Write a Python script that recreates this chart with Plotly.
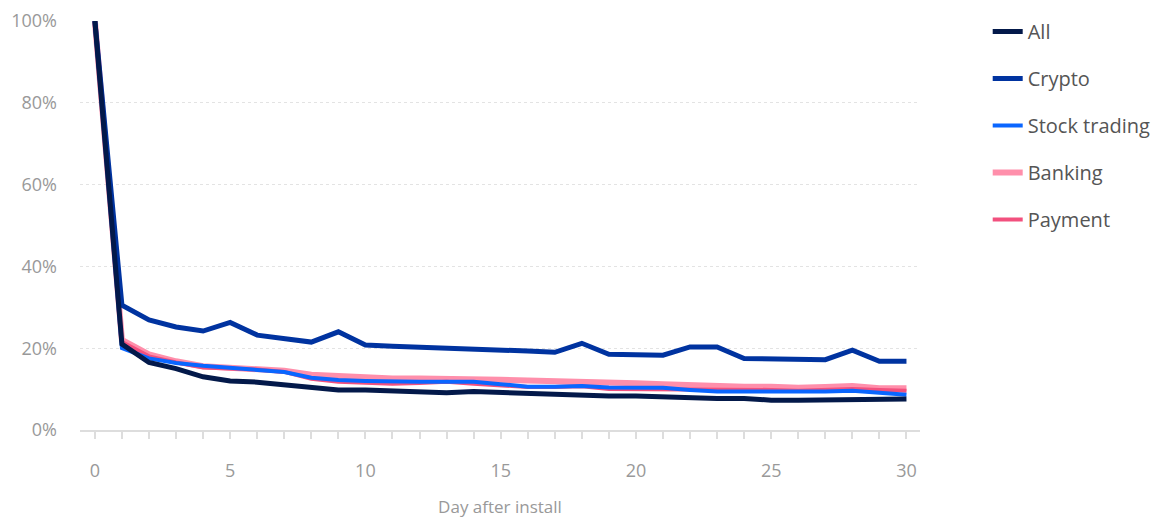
import plotly.graph_objects as go

days = list(range(31))

all_apps = [100, 21.0, 16.5, 15.0, 13.0, 12.0, 11.7, 11.0, 10.3, 9.8, 9.8, 9.6,
            9.6, 9.1, 9.4, 9.2, 9.0, 8.6, 8.3, 8.3, 8.3, 8.0, 8.0, 7.7, 7.7, 7.3,
            7.3, 7.3, 7.6, 7.6, 7.6]
crypto = [100, 30.5, 26.9, 25.2, 24.2, 26.3, 23.2, 22.2, 21.5, 24.0, 20.8, 20.5,
          20.3, 20.0, 20.0, 19.5, 19.3, 19.0, 21.2, 18.5, 18.5, 18.3, 20.3, 20.3,
          17.5, 17.5, 17.2, 17.2, 19.5, 16.8, 16.8]
stock_trading = [100, 20.0, 17.5, 16.4, 15.7, 15.2, 14.8, 14.2, 12.8, 12.2, 12.0,
                 11.8, 11.8, 11.8, 11.8, 11.2, 10.6, 10.6, 10.75, 10.4, 10.4, 10.3,
                 9.8, 9.4, 9.4, 9.4, 9.3, 9.4, 9.6, 9.0, 8.6]
banking = [100, 22.0, 18.5, 16.8, 15.6, 15.2, 15.1, 14.5, 13.5, 13.1, 12.8, 12.6,
           12.6, 12.6, 12.6, 12.3, 12.1, 12.0, 11.8, 11.5, 11.4, 11.2, 10.9, 10.6,
           10.6, 10.6, 10.35, 10.5, 10.75, 10.2, 10.2]
payment = [100, 21.5, 18.0, 16.5, 15.3, 15.0, 14.8, 14.2, 12.5, 11.8, 11.5, 11.3,
           11.5, 11.8, 11.3, 11.0, 10.5, 10.5, 10.7, 10.0, 10.0, 9.9, 9.8, 9.8,
           9.8, 9.8, 9.6, 9.8, 10.0, 9.8, 9.6]

series = [
    # name, values, colour, width, legend rank
    ("Banking", banking, "#ff8fab", 6, 4),
    ("Payment", payment, "#f2507e", 4, 5),
    ("Stock trading", stock_trading, "#0a66ff", 4, 3),
    ("Crypto", crypto, "#0033a0", 5, 2),
    ("All", all_apps, "#03194a", 5, 1),
]

fig = go.Figure()
for name, vals, col, w, rank in series:
    fig.add_trace(go.Scatter(
        x=days, y=vals, name=name, mode="lines",
        line=dict(color=col, width=w), legendrank=rank,
        legendgroup=name, cliponaxis=False,
        hovertemplate="%{y:.1f}%<extra>" + name + "</extra>",
    ))

fig.update_layout(
    width=1170, height=518,
    margin=dict(l=80, r=250, t=21, b=88, autoexpand=False),
    paper_bgcolor="white", plot_bgcolor="white",
    font=dict(family="'Open Sans', Inter, sans-serif", color="#999999"),
    showlegend=True,
    legend=dict(
        x=1.0806, y=1.022, xanchor="left", yanchor="top",
        font=dict(size=20, color="#555555"),
        tracegroupgap=18, bgcolor="rgba(0,0,0,0)",
    ),
    xaxis=dict(
        range=[-0.55, 30.5],
        tickmode="linear", tick0=0, dtick=5,
        ticks="outside", ticklen=7, tickcolor="#dddddd", tickwidth=1.5,
        minor=dict(tick0=0, dtick=1, ticks="outside", ticklen=7,
                   tickcolor="#dddddd", tickwidth=1.5),
        showgrid=False, zeroline=False, automargin=False,
        showline=True, linecolor="#dddddd", linewidth=2,
        tickfont=dict(size=18, color="#999999"),
        ticklabelstandoff=16,
        title=dict(text="Day after install", font=dict(size=17, color="#999999"),
                   standoff=22),
    ),
    yaxis=dict(
        range=[0, 100], tickmode="array",
        tickvals=[0, 20, 40, 60, 80, 100],
        ticktext=["0%", "20%", "40%", "60%", "80%", "100%"],
        showgrid=True, gridcolor="#e3e3e3", griddash="dot", gridwidth=1,
        zeroline=False, showline=False, ticks="", automargin=False,
        tickfont=dict(size=18, color="#999999"),
        ticklabelstandoff=22,
    ),
)

fig.write_html("out.html", config={"displayModeBar": False},
               post_script="document.body.style.margin='0';")
